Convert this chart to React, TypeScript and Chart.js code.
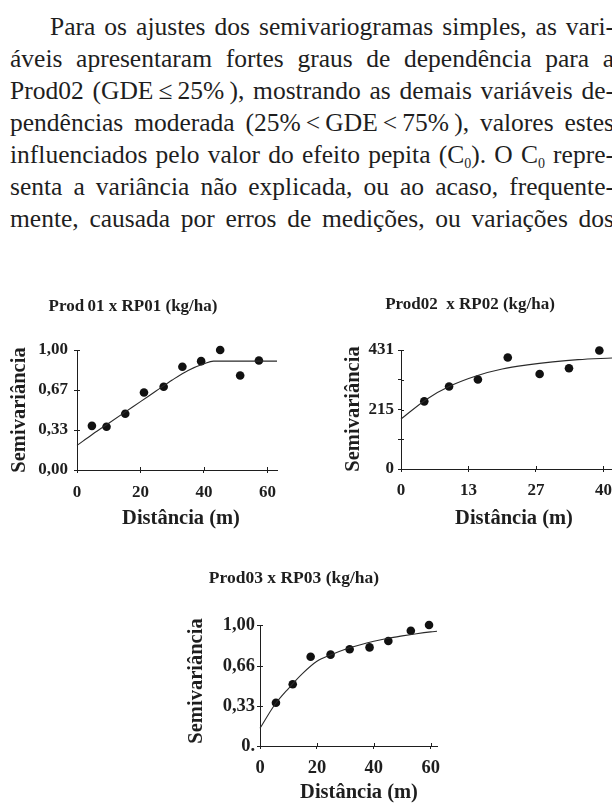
import React, { useEffect, useRef } from "react";
import { Chart, registerables } from "chart.js";

Chart.register(...registerables);

const FONT = "'Liberation Serif', 'Times New Roman', serif";
const INK = "#1e1e1e";

// ---------- Chart 1: Prod01 x RP01 ----------
const c1Title = "Prod\u200901 x RP01 (kg/ha)";
const c1PointX = [4.7, 9.3, 15.2, 21.1, 27.3, 33.2, 39.1, 45.1, 51.4, 57.3];
const c1PointY = [0.368, 0.36, 0.469, 0.646, 0.694, 0.86, 0.907, 1.0, 0.787, 0.913];
const c1CurveX = [0, 5, 10, 15, 20, 25, 30, 35, 40, 43, 63];
const c1CurveY = [0.205, 0.3, 0.39, 0.48, 0.57, 0.66, 0.75, 0.83, 0.885, 0.907, 0.907];
const c1XTicks = [0, 20, 40, 60];
const c1XLabels = ["0", "20", "40", "60"];
const c1YTicks = [0, 1 / 3, 2 / 3, 1];
const c1YLabels = ["0,00", "0,33", "0,67", "1,00"];

// ---------- Chart 2: Prod02 x RP02 ----------
const c2Title = "Prod02  x RP02 (kg/ha)";
const c2PointX = [4.6, 9.5, 15.2, 21.1, 27.4, 33.2, 39.2];
const c2PointY = [245, 299, 324, 404, 344, 365, 429];
const c2CurveX = [0, 5, 10, 15, 20, 25, 30, 35, 41.7];
const c2CurveY = [181, 252, 303, 338, 362, 377, 388, 396, 402];
const c2XTicks = [0, 40 / 3, 80 / 3, 40];
const c2XLabels = ["0", "13", "27", "40"];
const c2YTicks = [0, 107.75, 215.5, 323.25, 431];
const c2YLabels = ["0", "", "215", "", "431"];

// ---------- Chart 3: Prod03 x RP03 ----------
const c3Title = "Prod03 x RP03 (kg/ha)";
const c3PointX = [5.6, 11.5, 17.8, 24.8, 31.5, 38.5, 45.1, 53.0, 59.4];
const c3PointY = [0.358, 0.51, 0.738, 0.755, 0.8, 0.815, 0.868, 0.953, 1.0];
const c3CurveX = [0, 5, 10, 15, 20, 25, 30, 35, 40, 45, 50, 55, 60, 62.2];
const c3CurveY = [0.146, 0.335, 0.475, 0.6, 0.7, 0.755, 0.8, 0.835, 0.865, 0.89, 0.91, 0.928, 0.943, 0.948];
const c3XTicks = [0, 20, 40, 60];
const c3XLabels = ["0", "20", "40", "60"];
const c3YTicks = [0, 0.33, 0.66, 1.0];
const c3YLabels = ["0.", "0,33", "0,66", "1,00"];

const yTitle = "Semivariância";
const xTitle = "Distância (m)";

const paragraphLines = [
  "Para os ajustes dos semivariogramas simples, as vari-",
  "áveis apresentaram fortes graus de dependência para a",
  "Prod02 (GDE\u2009≤\u200925%\u2009), mostrando as demais variáveis de-",
  "pendências moderada (25%\u2009<\u2009GDE\u2009<\u200975%\u2009), valores estes",
  "influenciados pelo valor do efeito pepita (C|0|). O C|0| repre-",
  "senta a variância não explicada, ou ao acaso, frequente-",
  "mente, causada por erros de medições, ou variações dos",
];

const textPlugin = {
  id: "texts",
  afterDraw(chart: any, _args: any, opts: any) {
    const ctx = chart.ctx;
    for (const t of opts.items || []) {
      ctx.save();
      ctx.font = `bold ${t.size}px ${FONT}`;
      ctx.fillStyle = INK;
      ctx.textAlign = "center";
      ctx.textBaseline = "middle";
      ctx.translate(t.x, t.y);
      if (t.rotate) ctx.rotate(t.rotate);
      ctx.fillText(t.text, 0, 0);
      ctx.restore();
    }
  },
};

const crossTicks = {
  id: "crossTicks",
  beforeDatasetsDraw(chart: any, _args: any, opts: any) {
    const { ctx, chartArea, scales } = chart;
    const len = opts.len ?? 3;
    ctx.save();
    ctx.strokeStyle = INK;
    ctx.lineWidth = 1;
    ctx.beginPath();
    for (const t of scales.x.ticks) {
      const px = Math.round(scales.x.getPixelForValue(t.value)) + 0.5;
      if (Math.abs(px - chartArea.left) < 2) continue;
      ctx.moveTo(px, chartArea.bottom);
      ctx.lineTo(px, chartArea.bottom - len);
    }
    for (const t of scales.y.ticks) {
      const py = Math.round(scales.y.getPixelForValue(t.value)) + 0.5;
      if (Math.abs(py - chartArea.bottom) < 2) continue;
      ctx.moveTo(chartArea.left, py);
      ctx.lineTo(chartArea.left + len, py);
    }
    ctx.stroke();
    ctx.restore();
  },
};

type Spec = {
  pointX: number[];
  pointY: number[];
  curveX: number[];
  curveY: number[];
  xMax: number;
  yMax: number;
  xTicks: number[];
  xLabels: string[];
  yTicks: number[];
  yLabels: string[];
  box: { left: number; top: number; width: number; height: number };
  pad: { top: number; right: number };
  yAxisWidth: number;
  xAxisHeight: number;
  xTickPad: number;
  yTickPad: number;
  tickSize: number;
  texts: any[];
};

function SemiChart({ spec }: { spec: Spec }) {
  const ref = useRef<HTMLCanvasElement | null>(null);
  useEffect(() => {
    if (!ref.current) return;
    const s = spec;
    const chart = new Chart(ref.current, {
      type: "scatter",
      data: {
        datasets: [
          {
            data: s.curveX.map((x, i) => ({ x, y: s.curveY[i] })),
            showLine: true,
            pointRadius: 0,
            borderColor: "#2a2a2a",
            borderWidth: 1.1,
            cubicInterpolationMode: "monotone",
            clip: false,
          } as any,
          {
            data: s.pointX.map((x, i) => ({ x, y: s.pointY[i] })),
            showLine: false,
            pointRadius: 4.3,
            pointBackgroundColor: "#111",
            pointBorderColor: "#111",
            pointBorderWidth: 0,
            clip: false,
          } as any,
        ],
      },
      options: {
        responsive: false,
        animation: false,
        devicePixelRatio: 1,
        layout: { padding: { left: 0, top: s.pad.top, right: s.pad.right, bottom: 0 } },
        plugins: {
          legend: { display: false },
          tooltip: { enabled: false },
          title: { display: false },
          texts: { items: s.texts },
          crossTicks: { len: 3 },
        } as any,
        scales: {
          x: {
            type: "linear",
            min: 0,
            max: s.xMax,
            afterBuildTicks: (axis: any) => {
              axis.ticks = s.xTicks.map((v) => ({ value: v }));
            },
            afterFit: (scale: any) => {
              scale.height = s.xAxisHeight;
            },
            grid: { drawOnChartArea: false, drawTicks: true, tickLength: 3, color: INK, lineWidth: 1 },
            border: { display: true, color: INK, width: 1 },
            ticks: {
              padding: s.xTickPad,
              color: INK,
              font: { family: FONT, size: s.tickSize, weight: "bold" },
              maxRotation: 0,
              autoSkip: false,
              callback: (_v: any, i: number) => s.xLabels[i],
            },
          },
          y: {
            type: "linear",
            min: 0,
            max: s.yMax,
            afterBuildTicks: (axis: any) => {
              axis.ticks = s.yTicks.map((v) => ({ value: v }));
            },
            afterFit: (scale: any) => {
              scale.width = s.yAxisWidth;
            },
            grid: { drawOnChartArea: false, drawTicks: true, tickLength: 3, color: INK, lineWidth: 1 },
            border: { display: true, color: INK, width: 1 },
            ticks: {
              padding: s.yTickPad,
              color: INK,
              font: { family: FONT, size: s.tickSize, weight: "bold" },
              autoSkip: false,
              callback: (_v: any, i: number) => s.yLabels[i],
            },
          },
        },
      } as any,
      plugins: [textPlugin, crossTicks],
    });
    return () => chart.destroy();
  }, [spec]);
  return (
    <canvas
      ref={ref}
      width={spec.box.width}
      height={spec.box.height}
      style={{
        position: "absolute",
        left: spec.box.left,
        top: spec.box.top,
        width: spec.box.width,
        height: spec.box.height,
      }}
    />
  );
}

const spec1: Spec = {
  pointX: c1PointX,
  pointY: c1PointY,
  curveX: c1CurveX,
  curveY: c1CurveY,
  xMax: 63,
  yMax: 1,
  xTicks: c1XTicks,
  xLabels: c1XLabels,
  yTicks: c1YTicks,
  yLabels: c1YLabels,
  box: { left: 0, top: 285, width: 306, height: 250 },
  pad: { top: 65, right: 29 },
  yAxisWidth: 77,
  xAxisHeight: 65,
  xTickPad: 9,
  yTickPad: 6,
  tickSize: 17,
  texts: [
    { text: c1Title, x: 133, y: 22, size: 17 },
    { text: yTitle, x: 20, y: 125, size: 20.5, rotate: -Math.PI / 2 },
    { text: xTitle, x: 181, y: 234, size: 20.5 },
  ],
};

const spec2: Spec = {
  pointX: c2PointX,
  pointY: c2PointY,
  curveX: c2CurveX,
  curveY: c2CurveY,
  xMax: 41.7,
  yMax: 431,
  xTicks: c2XTicks,
  xLabels: c2XLabels,
  yTicks: c2YTicks,
  yLabels: c2YLabels,
  box: { left: 306, top: 285, width: 316, height: 250 },
  pad: { top: 65, right: 10 },
  yAxisWidth: 95,
  xAxisHeight: 66,
  xTickPad: 8,
  yTickPad: 4,
  tickSize: 17,
  texts: [
    { text: c2Title, x: 164, y: 20, size: 17 },
    { text: yTitle, x: 48, y: 124, size: 20.5, rotate: -Math.PI / 2 },
    { text: xTitle, x: 208, y: 234, size: 20.5 },
  ],
};

const spec3: Spec = {
  pointX: c3PointX,
  pointY: c3PointY,
  curveX: c3CurveX,
  curveY: c3CurveY,
  xMax: 62.2,
  yMax: 1,
  xTicks: c3XTicks,
  xLabels: c3XLabels,
  yTicks: c3YTicks,
  yLabels: c3YLabels,
  box: { left: 150, top: 560, width: 306, height: 247 },
  pad: { top: 65, right: 19 },
  yAxisWidth: 110,
  xAxisHeight: 61,
  xTickPad: 8,
  yTickPad: 2,
  tickSize: 18.5,
  texts: [
    { text: c3Title, x: 144, y: 18, size: 17.5 },
    { text: yTitle, x: 47, y: 121, size: 20.5, rotate: -Math.PI / 2 },
    { text: xTitle, x: 209, y: 233, size: 20.5 },
  ],
};

function renderLine(line: string) {
  const parts = line.split("|");
  return parts.map((p, i) =>
    i % 2 === 1 ? (
      <span key={i} style={{ fontSize: "0.55em", position: "relative", top: "0.35em", lineHeight: 0 }}>
        {p}
      </span>
    ) : (
      <React.Fragment key={i}>{p}</React.Fragment>
    )
  );
}

export default function App() {
  return (
    <div
      style={{
        position: "absolute",
        left: 0,
        top: 0,
        width: 612,
        height: 807,
        overflow: "hidden",
        background: "#fff",
      }}
    >
      <div
        style={{
          position: "absolute",
          left: 10,
          top: 11,
          width: 604,
          fontFamily: FONT,
          fontSize: 25.5,
          color: INK,
        }}
      >
        {paragraphLines.map((line, i) => (
          <div
            key={i}
            style={{
              height: 32,
              lineHeight: "32px",
              whiteSpace: "nowrap",
              textAlign: "justify",
              textAlignLast: "justify",
              paddingLeft: i === 0 ? 40 : 0,
            }}
          >
            {renderLine(line)}
          </div>
        ))}
      </div>
      <SemiChart spec={spec1} />
      <SemiChart spec={spec2} />
      <SemiChart spec={spec3} />
    </div>
  );
}
